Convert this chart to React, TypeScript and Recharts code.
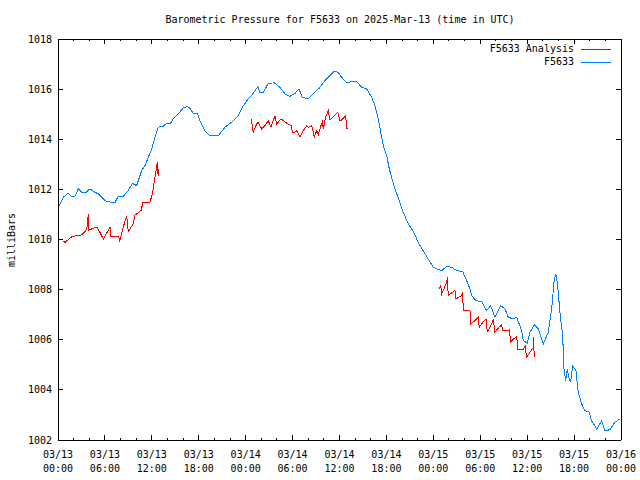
import React from "react";
import { LineChart, Line, XAxis, YAxis } from "recharts";

// F5633 station readings, hours since 2025-03-13 00:00 UTC
const stationHours = [
  0, 0.68, 1.32, 1.66, 2.17, 2.6, 3.03, 3.54, 4.09, 4.51,
  5.15, 6.01, 6.87, 7.29, 7.71, 8.35, 8.99, 9.5, 10.06, 10.7,
  11.13, 11.55, 11.98, 12.4, 12.83, 13.47, 13.9, 14.32, 14.74, 15.38,
  16.02, 16.46, 16.75, 17.3, 17.86, 18.16, 18.8, 19.44, 20.5, 21.36,
  22.21, 23.06, 23.7, 24.34, 24.97, 25.54, 25.83, 26.25, 26.89, 27.66,
  28.39, 29.03, 29.67, 30.31, 30.82, 31.24, 32.01, 32.65, 33.5, 34.14,
  34.78, 35.33, 35.84, 36.28, 36.92, 37.56, 38.2, 38.84, 39.48, 40.12,
  40.54, 40.96, 41.27, 41.6, 42.03, 42.37, 42.67, 43.09, 43.64, 44.16,
  44.8, 45.52, 46.07, 46.71, 47.35, 47.99, 48.5, 49.07, 49.71, 50.35,
  50.98, 51.75, 52.26, 52.69, 52.9, 53.45, 54.18, 54.82, 55.33, 55.88,
  56.18, 56.61, 57.16, 57.58, 58.22, 58.66, 59.3, 59.5, 60.01, 60.36,
  60.91, 61.42, 62.06, 62.7, 63.13, 63.47, 63.68, 63.9, 64.19, 64.54,
  64.71, 64.92, 65.13, 65.38, 65.56, 65.82, 66.24, 66.53, 66.97, 67.39,
  67.94, 68.24, 68.89, 69.53, 69.95, 70.59, 71.23, 71.87,
];
const stationPressure = [
  1011.25, 1011.69, 1011.85, 1011.73, 1011.73, 1012.02, 1011.88, 1011.87, 1012.02, 1011.92,
  1011.82, 1011.55, 1011.48, 1011.48, 1011.73, 1011.73, 1011.95, 1012.24, 1012.15, 1012.75,
  1012.95, 1013.28, 1013.61, 1014.08, 1014.48, 1014.52, 1014.64, 1014.61, 1014.81, 1015.01,
  1015.25, 1015.3, 1015.28, 1015.04, 1015.01, 1014.74, 1014.34, 1014.14, 1014.14, 1014.48,
  1014.68, 1014.94, 1015.34, 1015.61, 1015.83, 1016.1, 1015.87, 1015.87, 1016.23, 1016.25,
  1016.07, 1015.81, 1015.71, 1015.83, 1016.01, 1015.67, 1015.61, 1015.81, 1016.07, 1016.34,
  1016.54, 1016.71, 1016.67, 1016.47, 1016.25, 1016.3, 1016.3, 1016.07, 1016.01, 1015.67,
  1015.34, 1014.81, 1014.28, 1013.74, 1013.35, 1012.81, 1012.48, 1012.02, 1011.55, 1011.08,
  1010.62, 1010.28, 1009.88, 1009.55, 1009.22, 1008.89, 1008.82, 1008.76, 1008.93, 1008.89,
  1008.76, 1008.72, 1008.36, 1008.03, 1007.76, 1007.56, 1007.52, 1007.16, 1007.36, 1006.9,
  1007.1, 1007.36, 1007.23, 1006.9, 1006.83, 1006.9, 1006.36, 1005.96, 1005.87, 1006.3,
  1006.6, 1006.43, 1005.83, 1006.3, 1007.23, 1008.42, 1008.62, 1008.16, 1007.1, 1006.16,
  1004.83, 1004.37, 1004.83, 1004.43, 1004.33, 1004.96, 1004.77, 1003.9, 1003.44, 1003.17,
  1003.11, 1002.77, 1002.44, 1002.77, 1002.37, 1002.41, 1002.71, 1002.84,
];

// F5633 Analysis, three runs (repeated hours make the hourly jumps)
const analysisHours1 = [
  0.6, 0.9, 1.75, 2.4, 3.0, 3.5, 3.7, 3.87, 3.95, 4.9,
  5.05, 5.8, 6.65, 6.75, 7.75, 7.9, 8.57, 8.8, 8.99, 9.6,
  9.85, 10.7, 10.8, 11.75, 12.1, 12.4, 12.7, 12.8, 12.9,
];
const analysisPressure1 = [
  1009.95, 1009.89, 1010.11, 1010.15, 1010.18, 1010.33, 1010.45, 1011.02, 1010.38, 1010.49,
  1010.47, 1010.02, 1010.49, 1010.1, 1010.11, 1009.95, 1010.75, 1010.91, 1010.31, 1010.62,
  1010.97, 1011.18, 1011.48, 1011.46, 1011.88, 1012.48, 1013.08, 1012.55, 1012.81,
];
const analysisHours2 = [
  24.77, 24.85, 24.97, 25.41, 25.61, 26.05, 26.56, 26.89, 27.24, 27.75,
  27.97, 28.52, 29.25, 29.88, 29.96, 30.31, 30.52, 30.95, 31.24, 31.8,
  32.01, 32.44, 32.78, 33.08, 33.29, 33.63, 33.8, 33.93, 34.23, 34.57,
  34.78, 35.13, 35.33, 35.77, 36.06, 36.28, 36.79, 36.92, 37.12,
];
const analysisPressure2 = [
  1014.81, 1014.41, 1014.28, 1014.61, 1014.68, 1014.41, 1014.58, 1014.74, 1014.48, 1014.94,
  1014.61, 1014.81, 1014.64, 1014.54, 1014.28, 1014.28, 1014.34, 1014.08, 1014.28, 1014.54,
  1014.48, 1014.54, 1014.1, 1014.34, 1014.18, 1014.54, 1014.68, 1014.41, 1014.88, 1015.14,
  1014.77, 1014.88, 1014.94, 1015.08, 1014.74, 1014.77, 1014.94, 1014.44, 1014.44,
];
const analysisHours3 = [
  48.76, 48.94, 49.07, 49.36, 49.71, 49.78, 49.91, 50.55, 50.77, 50.9,
  51.62, 51.75, 51.83, 52.69, 52.81, 53.32, 53.75, 53.87, 54.51, 54.73,
  54.9, 55.46, 55.66, 55.88, 56.39, 56.74, 56.87, 57.71, 57.89, 58.66,
  58.79, 59.5, 59.75, 59.93, 60.58, 60.78, 60.8, 60.91,
];
const analysisPressure3 = [
  1008.03, 1008.19, 1007.83, 1008.03, 1008.29, 1008.49, 1007.76, 1007.92, 1007.96, 1007.63,
  1007.76, 1007.89, 1007.16, 1007.16, 1006.63, 1006.76, 1006.9, 1006.5, 1006.76, 1006.83,
  1006.32, 1006.63, 1006.83, 1006.3, 1006.5, 1006.59, 1006.36, 1006.39, 1005.92, 1006.14,
  1005.63, 1005.63, 1005.74, 1005.3, 1005.6, 1005.7, 1006.1, 1005.3,
];

const hourTicks = [
  0, 2, 4, 6, 8, 10, 12, 14, 16, 18, 20, 22, 24, 26, 28, 30, 32, 34, 36,
  38, 40, 42, 44, 46, 48, 50, 52, 54, 56, 58, 60, 62, 64, 66, 68, 70, 72,
];
const dayLabels = ["03/13", "03/14", "03/15", "03/16"];
const pressureTicks = [1002, 1004, 1006, 1008, 1010, 1012, 1014, 1016, 1018];

const FONT = '"DejaVu Sans Mono", monospace';
const RED = "#ff0000";
const BLUE = "#0080ff";

function toPoints(hours: number[], values: number[]) {
  return hours.map((h, i) => ({ hour: h, pressure: values[i] }));
}

function hourLabel(v: number) {
  return String(v % 24).padStart(2, "0") + ":00";
}

function BottomTick({ x, y, payload }: any) {
  const v = payload.value;
  const major = v % 6 === 0;
  return (
    <g>
      <line x1={x} x2={x} y1={y} y2={y - (major ? 5 : 2)} stroke="#000" shapeRendering="crispEdges" />
      {major && (
        <text textAnchor="middle" fontFamily={FONT} fontSize={10} fill="#000">
          <tspan x={x} y={y + 18}>{dayLabels[Math.floor(v / 24)]}</tspan>
          <tspan x={x} y={y + 32}>{hourLabel(v)}</tspan>
        </text>
      )}
    </g>
  );
}

function TopTick({ x, y, payload }: any) {
  const major = payload.value % 6 === 0;
  return <line x1={x} x2={x} y1={y} y2={y + (major ? 5 : 2)} stroke="#000" shapeRendering="crispEdges" />;
}

function LeftTick({ x, y, payload }: any) {
  return (
    <g>
      <line x1={x} x2={x + 5} y1={y} y2={y} stroke="#000" shapeRendering="crispEdges" />
      <text x={x - 6} y={y} dy="0.35em" textAnchor="end" fontFamily={FONT} fontSize={10} fill="#000">
        {payload.value}
      </text>
    </g>
  );
}

function RightTick({ x, y }: any) {
  return <line x1={x} x2={x - 5} y1={y} y2={y} stroke="#000" shapeRendering="crispEdges" />;
}

const textStyle: React.CSSProperties = {
  position: "absolute",
  fontFamily: FONT,
  fontSize: 10,
  lineHeight: "12px",
  color: "#000",
  whiteSpace: "nowrap",
};

export default function App() {
  const station = toPoints(stationHours, stationPressure);
  const runs = [
    toPoints(analysisHours1, analysisPressure1),
    toPoints(analysisHours2, analysisPressure2),
    toPoints(analysisHours3, analysisPressure3),
  ];

  return (
    <div style={{ position: "absolute", left: 0, top: 0, width: 640, height: 480, background: "#fff" }}>
      <LineChart width={640} height={480} margin={{ top: 19, right: 0, bottom: 0, left: 0 }}>
        <XAxis
          xAxisId="bottom"
          dataKey="hour"
          type="number"
          domain={[0, 72]}
          allowDataOverflow
          ticks={hourTicks}
          interval={0}
          height={40}
          tickSize={0}
          tickMargin={0}
          tickLine={false}
          axisLine={{ stroke: "#000", shapeRendering: "crispEdges" }}
          tick={<BottomTick />}
        />
        <XAxis
          xAxisId="top"
          orientation="top"
          dataKey="hour"
          type="number"
          domain={[0, 72]}
          allowDataOverflow
          ticks={hourTicks}
          interval={0}
          height={20}
          tickSize={0}
          tickMargin={0}
          tickLine={false}
          axisLine={{ stroke: "#000", shapeRendering: "crispEdges" }}
          tick={<TopTick />}
        />
        <YAxis
          yAxisId="left"
          type="number"
          domain={[1002, 1018]}
          allowDataOverflow
          ticks={pressureTicks}
          interval={0}
          width={58}
          tickSize={0}
          tickMargin={0}
          tickLine={false}
          axisLine={{ stroke: "#000", shapeRendering: "crispEdges" }}
          tick={<LeftTick />}
        />
        <YAxis
          yAxisId="right"
          orientation="right"
          type="number"
          domain={[1002, 1018]}
          allowDataOverflow
          ticks={pressureTicks}
          interval={0}
          width={19}
          tickSize={0}
          tickMargin={0}
          tickLine={false}
          axisLine={{ stroke: "#000", shapeRendering: "crispEdges" }}
          tick={<RightTick />}
        />
        {runs.map((run, i) => (
          <Line
            key={i}
            xAxisId="bottom"
            yAxisId="left"
            data={run}
            dataKey="pressure"
            type="linear"
            stroke={RED}
            strokeWidth={1}
            shapeRendering="crispEdges"
            dot={false}
            activeDot={false}
            isAnimationActive={false}
          />
        ))}
        <Line
          xAxisId="bottom"
          yAxisId="left"
          data={station}
          dataKey="pressure"
          type="linear"
          stroke={BLUE}
          strokeWidth={1}
          shapeRendering="crispEdges"
          dot={false}
          activeDot={false}
          isAnimationActive={false}
        />
      </LineChart>

      <div style={{ ...textStyle, left: 0, width: 680, top: 14, textAlign: "center" }}>
        Barometric Pressure for F5633 on 2025-Mar-13 (time in UTC)
      </div>
      <div style={{ ...textStyle, left: 12, top: 240, transform: "translate(-50%, -50%) rotate(-90deg)" }}>
        milliBars
      </div>

      <div style={{ ...textStyle, left: 0, width: 574, top: 43, textAlign: "right" }}>F5633 Analysis</div>
      <div style={{ position: "absolute", left: 581, top: 49, width: 30, height: 1, background: RED }} />
      <div style={{ ...textStyle, left: 0, width: 574, top: 56, textAlign: "right" }}>F5633</div>
      <div style={{ position: "absolute", left: 581, top: 62, width: 30, height: 1, background: BLUE }} />
    </div>
  );
}
